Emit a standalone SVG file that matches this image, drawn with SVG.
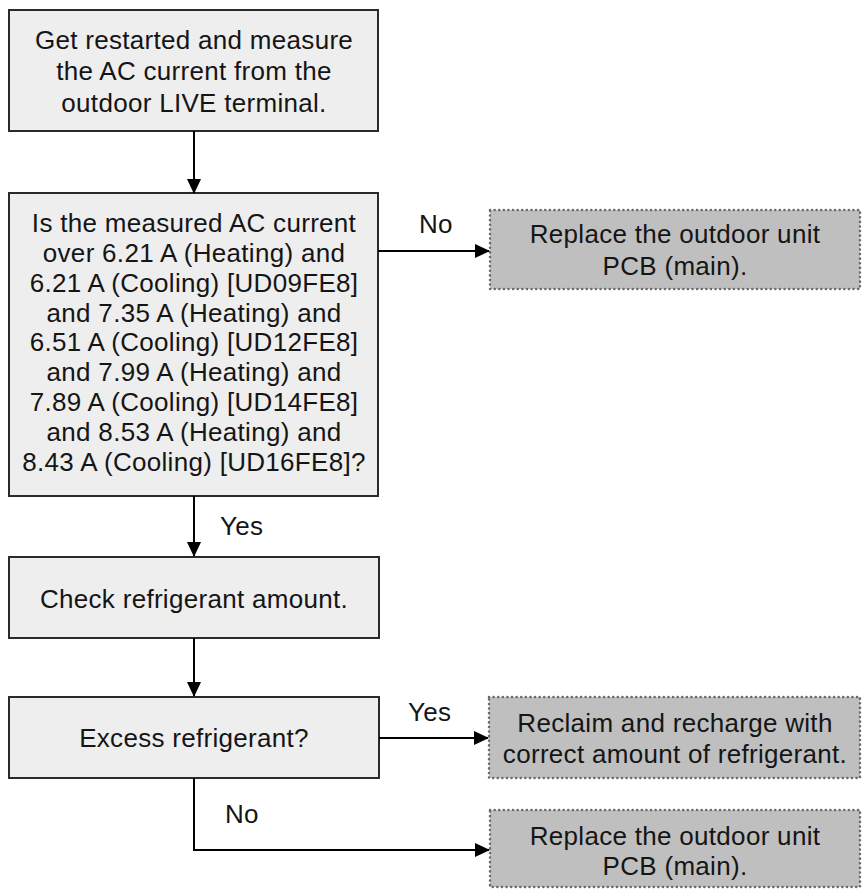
<svg xmlns="http://www.w3.org/2000/svg" width="863" height="889" viewBox="0 0 863 889">
<defs>
<marker id="ah" markerWidth="15" markerHeight="14" refX="14" refY="7" orient="auto" markerUnits="userSpaceOnUse" viewBox="0 0 15 14">
<path d="M0,0 L15,7 L0,14 z" fill="#000"/>
</marker>
<style>
.box{fill:#eeeeee;stroke:#2a2a2a;stroke-width:2}
.res{fill:#bfbfbf;stroke:#6a6a6a;stroke-width:2.5;stroke-dasharray:0.1 4.5;stroke-linecap:round}
text{font-family:"Liberation Sans",Arial,sans-serif;font-size:26px;letter-spacing:0.3px;fill:#151515;text-anchor:middle}
.lbl{text-anchor:start}
.conn{fill:none;stroke:#000;stroke-width:2}
</style>
</defs>
<rect width="863" height="889" fill="#fff"/>
<g id="n1">
<rect class="box" x="9" y="10" width="369" height="121"/>
<text x="194" y="49">Get restarted and measure</text>
<text x="194" y="80.3">the AC current from the</text>
<text x="194" y="111.6">outdoor LIVE terminal.</text>
</g>
<g id="n2">
<rect class="box" x="9" y="193" width="369" height="303"/>
<text x="194" y="232">Is the measured AC current</text>
<text x="194" y="261.8">over 6.21 A (Heating) and</text>
<text x="194" y="291.6">6.21 A (Cooling) [UD09FE8]</text>
<text x="194" y="321.5">and 7.35 A (Heating) and</text>
<text x="194" y="351.3">6.51 A (Cooling) [UD12FE8]</text>
<text x="194" y="381.1">and 7.99 A (Heating) and</text>
<text x="194" y="411">7.89 A (Cooling) [UD14FE8]</text>
<text x="194" y="440.8">and 8.53 A (Heating) and</text>
<text x="194" y="470.7">8.43 A (Cooling) [UD16FE8]?</text>
</g>
<g id="n3">
<rect class="res" x="490" y="210" width="370" height="79"/>
<text x="675" y="243">Replace the outdoor unit</text>
<text x="675" y="275">PCB (main).</text>
</g>
<g id="n4">
<rect class="box" x="9" y="557" width="370" height="81"/>
<text x="194" y="608">Check refrigerant amount.</text>
</g>
<g id="n5">
<rect class="box" x="9" y="697" width="370" height="81"/>
<text x="194" y="747">Excess refrigerant?</text>
</g>
<g id="n6">
<rect class="res" x="489" y="697" width="371" height="81"/>
<text x="675" y="732">Reclaim and recharge with</text>
<text x="675" y="763">correct amount of refrigerant.</text>
</g>
<g id="n7">
<rect class="res" x="490" y="810" width="370" height="77"/>
<text x="675" y="845">Replace the outdoor unit</text>
<text x="675" y="875">PCB (main).</text>
</g>
<g id="connectors">
<line class="conn" x1="194" y1="131" x2="194" y2="193" marker-end="url(#ah)"/>
<line class="conn" x1="378" y1="251" x2="489" y2="251" marker-end="url(#ah)"/>
<text class="lbl" x="419" y="233">No</text>
<line class="conn" x1="194" y1="496" x2="194" y2="556" marker-end="url(#ah)"/>
<text class="lbl" x="220" y="535">Yes</text>
<line class="conn" x1="194" y1="638" x2="194" y2="696" marker-end="url(#ah)"/>
<line class="conn" x1="379" y1="738" x2="488" y2="738" marker-end="url(#ah)"/>
<text class="lbl" x="408" y="721">Yes</text>
<polyline class="conn" points="194,778 194,850 489,850" marker-end="url(#ah)"/>
<text class="lbl" x="225" y="823">No</text>
</g>
</svg>
